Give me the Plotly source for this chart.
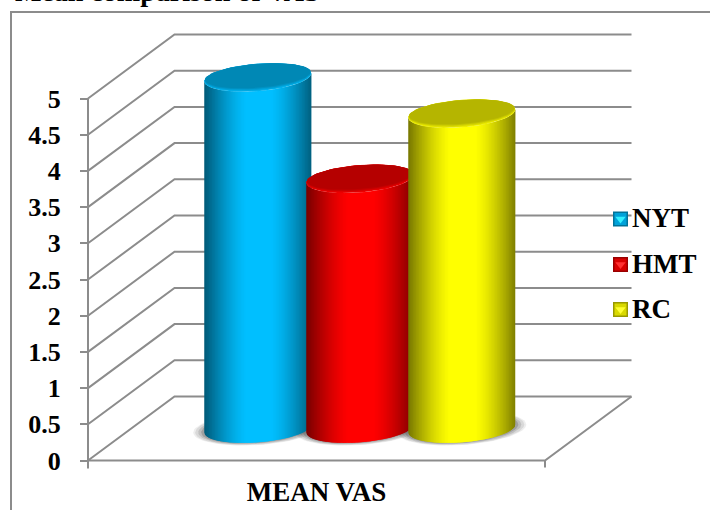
import numpy as np
import plotly.graph_objects as go

# Chart data
series_names = ["NYT", "HMT", "RC"]
series_values = [4.85, 3.45, 4.35]
category_label = "MEAN VAS"
title_text = "Mean comparison of VAS"
tick_values = [0, 0.5, 1, 1.5, 2, 2.5, 3, 3.5, 4, 4.5, 5]
tick_labels = ["0", "0.5", "1", "1.5", "2", "2.5", "3", "3.5", "4", "4.5", "5"]

# Series colours, as RGB
base_rgb = [(0, 191, 255), (255, 0, 0), (255, 255, 0)]

# Canvas and scale of the front plane
W, H = 710, 510
X0_PX, X1_PX = 88, 545
Y0_PX, UNIT_PX = 460.5, 72.4
X_UNIT = X1_PX - X0_PX

# Oblique projection: how far the back wall is shifted from the front plane
DEPTH_X = 86.5 / X_UNIT
DEPTH_V = 64 / UNIT_PX

# Cylinder geometry, in axis units
BAR_STEP = 102 / X_UNIT
RX = 53.5 / X_UNIT
RY = 13.8 / UNIT_PX
TILT = 4 / UNIT_PX

GRID = "#8c8c8c"
FONT = "Liberation Serif"


def px_x(p):
    return (p - X0_PX) / X_UNIT


def px_y(p):
    return (Y0_PX - p) / UNIT_PX


def shade(rgb, f):
    return "rgb({},{},{})".format(*[int(round(c * f)) for c in rgb])


def ellipse(cx, cv, rx, ry, tilt):
    t = np.linspace(0, 2 * np.pi, 73)
    return cx + rx * np.cos(t), cv + tilt * np.cos(t) + ry * np.sin(t)


def body_shade(u):
    # Dark at the rim of the cylinder, brightest over the middle
    d = np.clip((abs(u - 0.02) - 0.22) / 0.78, 0, 1)
    return 1 - 0.52 * d ** 1.4


fig = go.Figure()


def polygon(xs, ys, color):
    fig.add_trace(go.Scatter(x=xs, y=ys, mode="lines", fill="toself", fillcolor=color,
                             line=dict(width=0), hoverinfo="skip", showlegend=False))


def polyline(xs, ys, width=2):
    fig.add_trace(go.Scatter(x=xs, y=ys, mode="lines", line=dict(color=GRID, width=width),
                             hoverinfo="skip", showlegend=False))


# Gridlines run up the side wall and along the back wall
for v in tick_values:
    polyline([0, DEPTH_X, 1 + DEPTH_X], [v, v + DEPTH_V, v + DEPTH_V])

# Floor edges, end ticks and the vertical axis
polyline([0, 1, 1 + DEPTH_X], [0, 0, DEPTH_V])
polyline([0, 0], [tick_values[0] - 8 / UNIT_PX, tick_values[-1]])
polyline([1, 1], [0, -7 / UNIT_PX])

centres = [0.5 + (i - 1) * BAR_STEP + DEPTH_X / 2 for i in range(len(series_values))]
base_v = DEPTH_V / 2

# Soft shadows on the floor
for cx in centres:
    for grow, alpha in [(11, 0.10), (9, 0.14), (6, 0.2), (3, 0.3)]:
        xs, ys = ellipse(cx, base_v, RX + grow / X_UNIT, RY + 0.25 * grow / UNIT_PX, TILT)
        polygon(xs, ys, f"rgba(90,90,90,{alpha})")

# Cylinders: shaded vertical strips with a bevelled top face
STRIPS = 70
edges = np.linspace(-1, 1, STRIPS + 1)
for cx, value, rgb in zip(centres, series_values, base_rgb):
    top_v = value + base_v
    for k in range(STRIPS):
        us = np.linspace(edges[k], edges[min(k + 2, STRIPS)], 5)
        root = np.sqrt(np.clip(1 - us ** 2, 0, 1))
        xs = cx + RX * us
        top = top_v + TILT * us - RY * root
        bottom = base_v + TILT * us - RY * root
        polygon(np.r_[xs, xs[::-1], xs[0]], np.r_[top, bottom[::-1], top[0]],
                shade(rgb, body_shade((edges[k] + edges[k + 1]) / 2)))
    for scale_x, scale_y, lift, f in [(1, 1, 0, 0.92), (0.995, 0.95, 0.5, 0.84),
                                      (0.99, 0.9, 1.0, 0.76), (0.985, 0.86, 1.6, 0.71)]:
        xs, ys = ellipse(cx, top_v + lift / UNIT_PX, RX * scale_x, RY * scale_y, TILT)
        polygon(xs, ys, shade(rgb, f))

# Key: bevelled swatch and label for each series
key_rows_px = [219, 264.5, 309.5]
for name, rgb, row in zip(series_names, base_rgb, key_rows_px):
    kx, ky = [px_x(620.5)], [px_y(row)]
    light = "rgb({},{},{})".format(*[min(255, v + 50) for v in rgb])
    layers = [("square", 15, shade(rgb, 0.6)), ("square", 12, shade(rgb, 0.85)),
              ("triangle-down", 9, light)]
    for symbol, size, c in layers:
        fig.add_trace(go.Scatter(x=kx, y=ky, mode="markers", name=name, showlegend=False,
                                 marker=dict(symbol=symbol, size=size, color=c, line=dict(width=0)),
                                 hoverinfo="skip"))
    fig.add_annotation(x=px_x(632.5), y=px_y(row - 1), text=f"<b>{name}</b>", showarrow=False,
                       xanchor="left", yanchor="middle", xshift=-3,
                       font=dict(family=FONT, size=27, color="black"))

# Title sits mostly above the top edge of the page
fig.add_annotation(xref="paper", yref="paper", x=13 / W, y=1 - 8.5 / H, text=f"<b>{title_text}</b>",
                   showarrow=False, xanchor="left", yanchor="bottom",
                   font=dict(family=FONT, size=28, color="black"))

# Outer frame
fig.add_shape(type="path", xref="paper", yref="paper",
              path=f"M 1,{1 - 12 / H} L {11 / W},{1 - 12 / H} L {11 / W},0",
              line=dict(color=GRID, width=2))

fig.update_layout(
    width=W, height=H, margin=dict(l=0, r=0, t=0, b=0, autoexpand=False),
    paper_bgcolor="white", plot_bgcolor="white", showlegend=False,
    xaxis=dict(range=[px_x(0), px_x(W)], anchor="free", position=1 - Y0_PX / H,
               tickvals=[0.5], ticktext=[f"<b>{category_label}</b>"], ticks="outside",
               ticklen=7, tickcolor="rgba(0,0,0,0)", showgrid=False, zeroline=False, showline=False,
               tickfont=dict(family=FONT, size=27, color="black")),
    yaxis=dict(range=[px_y(H), px_y(0)], anchor="free", position=X0_PX / W,
               tickvals=tick_values, ticktext=[f"<b>{t}</b>" for t in tick_labels], ticks="outside",
               ticklen=8, tickwidth=2, tickcolor=GRID, ticklabelstandoff=14,
               showgrid=False, zeroline=False, showline=False,
               tickfont=dict(family=FONT, size=26, color="black")),
)

fig.write_html("out.html")
